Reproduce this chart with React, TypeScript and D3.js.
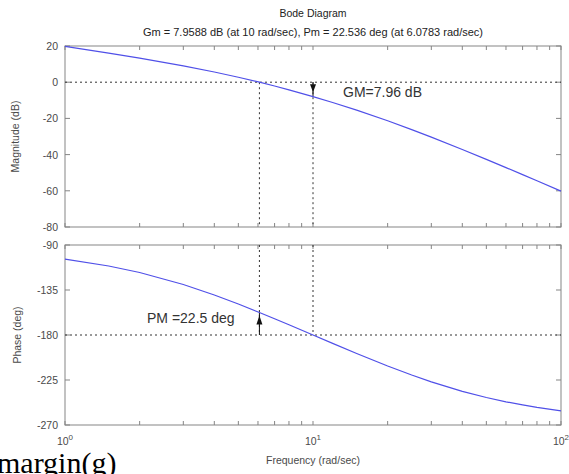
import * as d3 from 'd3';
import React from 'react';

const freq = [1, 1.5, 2, 3, 4, 5, 6.08, 7, 8, 10, 12, 15, 20, 25, 30, 40, 50, 60, 70, 80, 100];
const magnitudeDb = [19.82, 16.08, 13.3, 9.03, 5.64, 2.75, 0.0, -2.11, -4.22, -7.96, -11.22, -15.46, -21.33, -26.2, -30.34, -37.16, -42.62, -47.17, -51.06, -54.47, -60.18];
const phaseDeg = [-104.17, -110.99, -117.51, -129.49, -139.97, -149.04, -157.48, -163.75, -169.79, -180.0, -188.34, -198.44, -210.96, -220.03, -226.85, -236.3, -242.49, -246.81, -249.96, -252.38, -255.83];

const magTicks = [20, 0, -20, -40, -60, -80];
const phaseTicks = [-90, -135, -180, -225, -270];
const decadeTicks = [1, 10, 100];
const decadeExp = ['0', '1', '2'];

const gmFreq = 10;
const gmDb = -7.96;
const pmFreq = 6.08;
const pmPhase = -157.5;

const title = 'Bode Diagram';
const subtitle = 'Gm = 7.9588 dB (at 10 rad/sec),  Pm = 22.536 deg (at 6.0783 rad/sec)';

const W = 569, H = 474;
const left = 65, right = 561;
const magTop = 46, magBottom = 227;
const phTop = 245, phBottom = 425;

const font = 'Arial, "Liberation Sans", Helvetica, sans-serif';
const frameColor = '#858585';
const textColor = '#4a4a4a';
const lineColor = '#5050e8';

const App = () => {
    const x = d3.scaleLog().domain([1, 100]).range([left, right]);
    const yMag = d3.scaleLinear().domain([20, -80]).range([magTop, magBottom]);
    const yPh = d3.scaleLinear().domain([-90, -270]).range([phTop, phBottom]);

    const minor: number[] = [];
    [1, 10].forEach(d => { for (let k = 2; k <= 9; k++) minor.push(d * k); });

    const magLine = d3.line<number>().x((d, i) => x(freq[i])).y(d => yMag(d));
    const phLine = d3.line<number>().x((d, i) => x(freq[i])).y(d => yPh(d));

    const frame = (top: number, bottom: number, y: any, ticks: number[]) => (
        <g>
            <rect x={left} y={top} width={right - left} height={bottom - top} fill="none" stroke={frameColor} strokeWidth={1} />
            {decadeTicks.concat(minor).map(t => (
                <g key={t}>
                    <line x1={x(t)} x2={x(t)} y1={bottom} y2={bottom - 4} stroke={frameColor} />
                    <line x1={x(t)} x2={x(t)} y1={top} y2={top + 4} stroke={frameColor} />
                </g>
            ))}
            {ticks.map(t => (
                <g key={t}>
                    <line x1={left} x2={left + 5} y1={y(t)} y2={y(t)} stroke={frameColor} />
                    <line x1={right} x2={right - 5} y1={y(t)} y2={y(t)} stroke={frameColor} />
                    <text x={left - 7} y={y(t) + 4} textAnchor="end" fontSize={10.5} fill={textColor}>{t}</text>
                </g>
            ))}
        </g>
    );

    const dot = '2,3';

    return (
        <div style={{ position: 'absolute', left: 0, top: 0 }}>
            <svg width={W} height={H} fontFamily={font} style={{ display: 'block', background: '#fff' }}>
                <text x={(left + right) / 2} y={17} textAnchor="middle" fontSize={10.5} fill="#222">{title}</text>
                <text x={(left + right) / 2} y={36} textAnchor="middle" fontSize={11} fill="#222">{subtitle}</text>

                {frame(magTop, magBottom, yMag, magTicks)}
                {frame(phTop, phBottom, yPh, phaseTicks)}

                {/* margin markers */}
                <line x1={left} x2={right} y1={yMag(0)} y2={yMag(0)} stroke="#333" strokeDasharray={dot} />
                <line x1={x(pmFreq)} x2={x(pmFreq)} y1={yMag(0)} y2={magBottom} stroke="#333" strokeDasharray={dot} />
                <line x1={x(gmFreq)} x2={x(gmFreq)} y1={yMag(0)} y2={magBottom} stroke="#333" strokeDasharray={dot} />
                <line x1={x(gmFreq)} x2={x(gmFreq)} y1={yMag(0)} y2={yMag(gmDb)} stroke="#111" />
                <path d={`M${x(gmFreq) - 3},${yMag(0) + 2} L${x(gmFreq) + 3},${yMag(0) + 2} L${x(gmFreq)},${yMag(0) + 10} Z`} fill="#111" />
                <text x={343} y={yMag(0) + 15} fontSize={14} fill="#333">GM=7.96 dB</text>

                <line x1={left} x2={right} y1={yPh(-180)} y2={yPh(-180)} stroke="#333" strokeDasharray={dot} />
                <line x1={x(pmFreq)} x2={x(pmFreq)} y1={phTop} y2={yPh(-180)} stroke="#333" strokeDasharray={dot} />
                <line x1={x(gmFreq)} x2={x(gmFreq)} y1={phTop} y2={yPh(-180)} stroke="#333" strokeDasharray={dot} />
                <line x1={x(pmFreq)} x2={x(pmFreq)} y1={yPh(-180)} y2={yPh(pmPhase)} stroke="#111" />
                <path d={`M${x(pmFreq) - 3},${yPh(pmPhase) + 12} L${x(pmFreq) + 3},${yPh(pmPhase) + 12} L${x(pmFreq)},${yPh(pmPhase) + 3} Z`} fill="#111" />
                <text x={147} y={yPh(pmPhase) + 10} fontSize={14} fill="#333">PM =22.5 deg</text>

                <path d={magLine(magnitudeDb) || ''} fill="none" stroke={lineColor} strokeWidth={1.2} />
                <path d={phLine(phaseDeg) || ''} fill="none" stroke={lineColor} strokeWidth={1.2} />

                {decadeTicks.map((t, i) => (
                    <text key={t} x={x(t)} y={445} textAnchor="middle" fontSize={10.5} fill={textColor}>
                        10<tspan dy={-5} fontSize={8}>{decadeExp[i]}</tspan>
                    </text>
                ))}

                <text x={(left + right) / 2} y={464} textAnchor="middle" fontSize={10.5} fill={textColor}>Frequency (rad/sec)</text>
                <text transform={`translate(19,${(magTop + magBottom) / 2}) rotate(-90)`} textAnchor="middle" fontSize={10.5} fill={textColor}>Magnitude (dB)</text>
                <text transform={`translate(21,${(phTop + phBottom) / 2}) rotate(-90)`} textAnchor="middle" fontSize={10.5} fill={textColor}>Phase (deg)</text>

                <text x={-3} y={473} fontSize={30} fontFamily='"Liberation Serif", "Times New Roman", serif' fill="#000">margin(g)</text>
            </svg>
        </div>
    );
};

export default App;
